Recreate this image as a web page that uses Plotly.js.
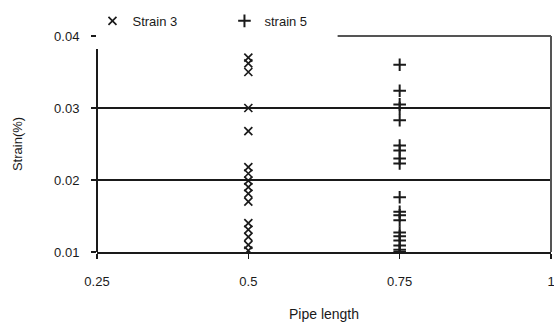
<!DOCTYPE html>
<html>
<head>
<meta charset="utf-8">
<script src="https://cdn.plot.ly/plotly-3.0.1.min.js"></script>
<style>html,body{margin:0;padding:0;background:#fff;}#chart{width:554px;height:324px;}</style>
</head>
<body>
<div id="chart"></div>
<script>
// Data
const strain3X = [0.5, 0.5, 0.5, 0.5, 0.5, 0.5, 0.5, 0.5, 0.5, 0.5, 0.5, 0.5, 0.5, 0.5, 0.5, 0.5];
const strain3Y = [0.0370, 0.0362, 0.0350, 0.0300, 0.0268, 0.0218, 0.0209, 0.0199, 0.0190, 0.0181, 0.0170, 0.0140, 0.0131, 0.0121, 0.0110, 0.0102];
const strain5X = [0.75, 0.75, 0.75, 0.75, 0.75, 0.75, 0.75, 0.75, 0.75, 0.75, 0.75, 0.75, 0.75, 0.75, 0.75, 0.75, 0.75, 0.75, 0.75];
const strain5Y = [0.0360, 0.0324, 0.0305, 0.0300, 0.0283, 0.0248, 0.0241, 0.0230, 0.0223, 0.0176, 0.0156, 0.0151, 0.0144, 0.0127, 0.0122, 0.0116, 0.0109, 0.0103, 0.0100];
const seriesNames = ["Strain 3", "strain 5"];
const xTicks = [0.25, 0.5, 0.75, 1];
const xTickLabels = ["0.25", "0.5", "0.75", "1"];
const yTicks = [0.01, 0.02, 0.03, 0.04];
const yTickLabels = ["0.01", "0.02", "0.03", "0.04"];

const FONT = "Liberation Sans, Arial, sans-serif";
const INK = "#1a1a1a";

const traces = [
  {
    type: "scatter", mode: "markers", name: seriesNames[0],
    x: strain3X, y: strain3Y,
    marker: {symbol: "x-thin-open", size: 8, color: INK, line: {color: INK, width: 1.7}}
  },
  {
    type: "scatter", mode: "markers", name: seriesNames[1],
    x: strain5X, y: strain5Y,
    marker: {symbol: "cross-thin-open", size: 9, color: INK, line: {color: INK, width: 2}}
  }
];

const layout = {
  width: 554, height: 324,
  margin: {l: 97, r: 3, t: 36, b: 72, pad: 0, autoexpand: false},
  paper_bgcolor: "#fff", plot_bgcolor: "#fff",
  font: {family: FONT, size: 13, color: INK},
  showlegend: true,
  legend: {
    orientation: "h", x: -0.01, xanchor: "left", y: 1.07, yanchor: "middle",
    bgcolor: "rgba(0,0,0,0)", borderwidth: 0,
    entrywidth: 87, entrywidthmode: "pixels",
    font: {family: FONT, size: 13, color: INK}
  },
  xaxis: {
    range: [0.25, 1], tickvals: xTicks, ticktext: xTickLabels,
    showgrid: false, zeroline: false,
    showline: true, linecolor: INK, linewidth: 2,
    ticks: "outside", ticklen: 5, tickwidth: 1.5, tickcolor: INK,
    ticklabelstandoff: 11, ticklabeloverflow: "allow",
    tickfont: {family: FONT, size: 13, color: INK},
    title: {text: "Pipe length", font: {family: FONT, size: 14, color: INK}, standoff: 22}
  },
  yaxis: {
    range: [0.01, 0.04], tickvals: yTicks, ticktext: yTickLabels,
    showgrid: true, gridcolor: INK, gridwidth: 2,
    zeroline: false, showline: false,
    ticks: "outside", ticklen: 5, tickwidth: 1.5, tickcolor: INK,
    ticklabelstandoff: 9, ticklabeloverflow: "allow",
    tickfont: {family: FONT, size: 13, color: INK},
    title: {text: "Strain(%)", font: {family: FONT, size: 13, color: INK}, standoff: 28}
  },
  shapes: [
    {type: "line", xref: "paper", yref: "paper", x0: 0.53, x1: 1, y0: 1, y1: 1, line: {color: "#555", width: 2}},
    {type: "line", xref: "paper", yref: "paper", x0: 1, x1: 1, y0: 0, y1: 1, line: {color: "#555", width: 2}},
    {type: "line", xref: "paper", yref: "paper", x0: 0, x1: 0, y0: 0, y1: 0.94, line: {color: INK, width: 2}}
  ]
};

Plotly.newPlot("chart", traces, layout, {displayModeBar: false, staticPlot: true});
</script>
</body>
</html>
